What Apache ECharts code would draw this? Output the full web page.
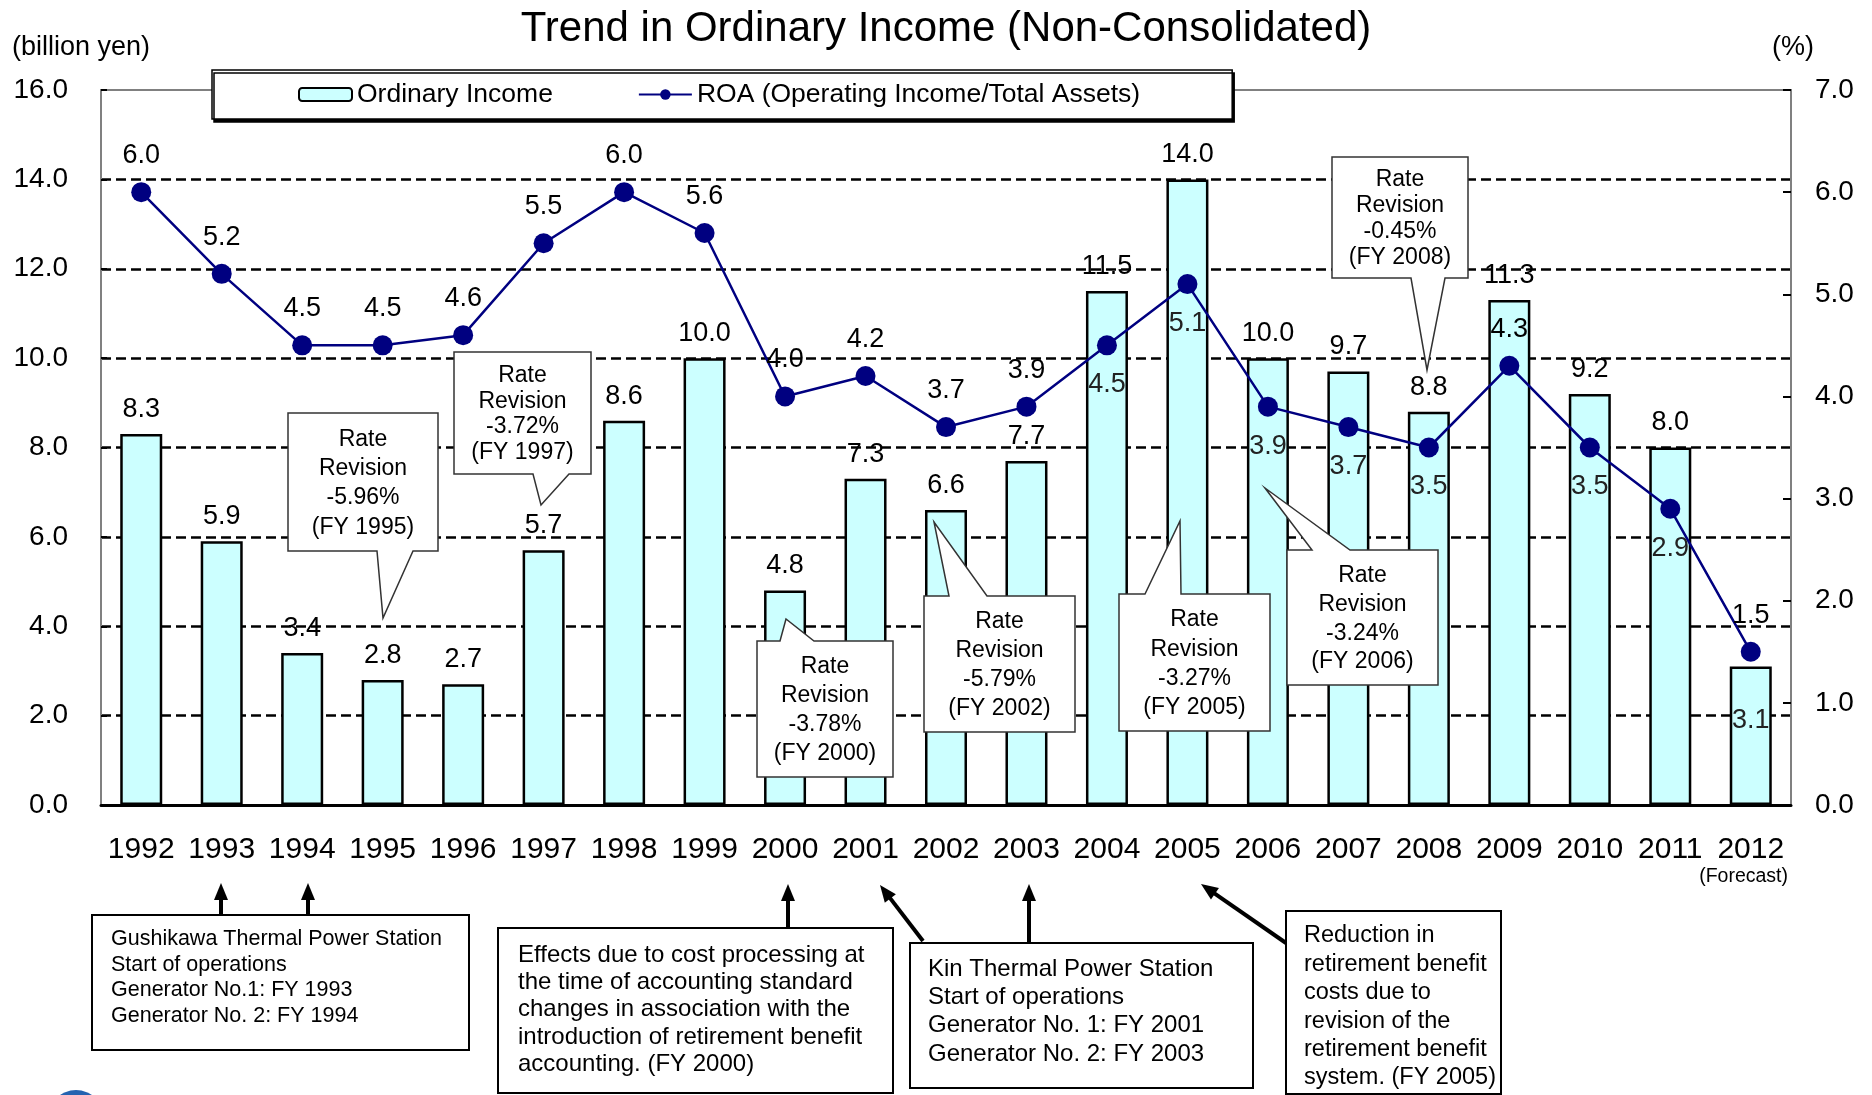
<!DOCTYPE html>
<html>
<head>
<meta charset="utf-8">
<title>Trend in Ordinary Income (Non-Consolidated)</title>
<script src="https://cdn.jsdelivr.net/npm/echarts@6/dist/echarts.min.js"></script>
<style>
  html, body { margin: 0; padding: 0; background: #fff; }
  #chart { width: 1872px; height: 1095px; }
</style>
</head>
<body>
<div id="chart"></div>
<script>
// data
var years = ['1992', '1993', '1994', '1995', '1996', '1997', '1998', '1999', '2000', '2001', '2002',
  '2003', '2004', '2005', '2006', '2007', '2008', '2009', '2010', '2011', '2012'];
var ordinaryIncome = [8.3, 5.9, 3.4, 2.8, 2.7, 5.7, 8.6, 10.0, 4.8, 7.3, 6.6, 7.7, 11.5, 14.0, 10.0, 9.7, 8.8, 11.3, 9.2, 8.0, 3.1];
var roa = [6.0, 5.2, 4.5, 4.5, 4.6, 5.5, 6.0, 5.6, 4.0, 4.2, 3.7, 3.9, 4.5, 5.1, 3.9, 3.7, 3.5, 4.3, 3.5, 2.9, 1.5];
var roaLabelBelow = ['2004', '2005', '2006', '2007', '2008', '2010', '2011'];
var incomeLabelInside = ['2012'];

var FONT = '"Liberation Sans", Arial, sans-serif';

// rate revision callouts: box [x1,y1,x2,y2], wedge base x's, tip, side of box
var callouts = [
  { box: [288, 413, 438, 551], base: [377, 413], tip: [383, 618], side: 'bottom', text: ['Rate', 'Revision', '-5.96%', '(FY 1995)'] },
  { box: [454, 352, 591, 474], base: [533, 569], tip: [541, 505], side: 'bottom', text: ['Rate', 'Revision', '-3.72%', '(FY 1997)'] },
  { box: [757, 641, 893, 777], base: [780, 814], tip: [786, 619], side: 'top', text: ['Rate', 'Revision', '-3.78%', '(FY 2000)'] },
  { box: [924, 596, 1075, 732], base: [949, 987], tip: [934, 522], side: 'top', text: ['Rate', 'Revision', '-5.79%', '(FY 2002)'] },
  { box: [1119, 594, 1270, 731], base: [1145, 1181], tip: [1180, 521], side: 'top', text: ['Rate', 'Revision', '-3.27%', '(FY 2005)'] },
  { box: [1287, 550, 1438, 685], base: [1312, 1350], tip: [1265, 488], side: 'top', text: ['Rate', 'Revision', '-3.24%', '(FY 2006)'] },
  { box: [1332, 157, 1468, 278], base: [1411, 1445], tip: [1427, 370], side: 'bottom', text: ['Rate', 'Revision', '-0.45%', '(FY 2008)'] }
];

// notes below the axis
var notes = [
  { box: [92, 915, 469, 1050], x: 111, y0: 939, dy: 25.7, size: 21.5,
    text: ['Gushikawa Thermal Power Station', 'Start of operations', 'Generator No.1: FY 1993', 'Generator No. 2: FY 1994'] },
  { box: [498, 928, 893, 1093], x: 518, y0: 955, dy: 27.3, size: 24,
    text: ['Effects due to cost processing at', 'the time of accounting standard', 'changes in association with the', 'introduction of retirement benefit', 'accounting. (FY 2000)'] },
  { box: [910, 943, 1253, 1088], x: 928, y0: 969, dy: 28.3, size: 24,
    text: ['Kin Thermal Power Station', 'Start of operations', 'Generator No. 1: FY 2001', 'Generator No. 2: FY 2003'] },
  { box: [1286, 911, 1501, 1094], x: 1304, y0: 936, dy: 28.4, size: 23.5,
    text: ['Reduction in', 'retirement benefit', 'costs due to', 'revision of the', 'retirement benefit', 'system. (FY 2005)'] }
];

var arrows = [
  [221, 914, 221, 883],
  [308, 914, 308, 883],
  [788, 928, 788, 884],
  [1029, 943, 1029, 884],
  [923, 941, 880, 885],
  [1286, 943, 1201, 884]
];

var graphics = [];

function addText(x, y, str, size, align) {
  graphics.push({
    type: 'text', x: x, y: y, z: 102,
    style: { text: str, fill: '#000', font: size + 'px ' + FONT, align: align, verticalAlign: 'middle' }
  });
}

callouts.forEach(function (c) {
  var b = c.box, pts;
  if (c.side === 'bottom') {
    pts = [[b[0], b[1]], [b[2], b[1]], [b[2], b[3]], [c.base[1], b[3]], c.tip, [c.base[0], b[3]], [b[0], b[3]]];
  } else {
    pts = [[b[0], b[1]], [c.base[0], b[1]], c.tip, [c.base[1], b[1]], [b[2], b[1]], [b[2], b[3]], [b[0], b[3]]];
  }
  graphics.push({
    type: 'polygon', z: 100, shape: { points: pts },
    style: { fill: '#fff', stroke: '#333', lineWidth: 1.5 }
  });
  var cx = (b[0] + b[2]) / 2;
  var h = b[3] - b[1];
  c.text.forEach(function (t, i) {
    addText(cx, b[1] + h * (0.19 + i * 0.213), t, 23, 'center');
  });
});

notes.forEach(function (n) {
  var b = n.box;
  graphics.push({
    type: 'rect', z: 100,
    shape: { x: b[0], y: b[1], width: b[2] - b[0], height: b[3] - b[1] },
    style: { fill: '#fff', stroke: '#000', lineWidth: 2 }
  });
  n.text.forEach(function (t, i) {
    addText(n.x, n.y0 + i * n.dy, t, n.size, 'left');
  });
});

arrows.forEach(function (a) {
  var dx = a[2] - a[0], dy = a[3] - a[1];
  var len = Math.sqrt(dx * dx + dy * dy);
  var ux = dx / len, uy = dy / len;
  var hl = 17, hw = 7;
  graphics.push({
    type: 'line', z: 100,
    shape: { x1: a[0], y1: a[1], x2: a[2] - ux * (hl - 2), y2: a[3] - uy * (hl - 2) },
    style: { stroke: '#000', lineWidth: 4 }
  });
  graphics.push({
    type: 'polygon', z: 100,
    shape: { points: [[a[2], a[3]], [a[2] - ux * hl - uy * hw, a[3] - uy * hl + ux * hw], [a[2] - ux * hl + uy * hw, a[3] - uy * hl - ux * hw]] },
    style: { fill: '#000' }
  });
});

// title and axis units
graphics.push({
  type: 'text', x: 946, y: 29, z: 102,
  style: { text: 'Trend in Ordinary Income (Non-Consolidated)', fill: '#000', font: '42px ' + FONT, align: 'center', verticalAlign: 'middle' }
});
addText(12, 48, '(billion yen)', 27, 'left');
addText(1814, 48, '(%)', 27, 'right');
addText(1788, 877, '(Forecast)', 19.5, 'right');

// bit of a logo cut off at the bottom left
graphics.push({ type: 'circle', z: 100, shape: { cx: 76, cy: 1118, r: 28 }, style: { fill: '#2563b0' } });

var incomeData = ordinaryIncome.map(function (v, i) {
  if (incomeLabelInside.indexOf(years[i]) >= 0) {
    return { value: v, label: { position: 'inside', offset: [0, -15], color: '#222' } };
  }
  return v;
});
var roaData = roa.map(function (v, i) {
  if (roaLabelBelow.indexOf(years[i]) >= 0) {
    return { value: v, label: { position: 'bottom', distance: 16, color: '#222' } };
  }
  return v;
});

var chart = echarts.init(document.getElementById('chart'));
chart.setOption({
  backgroundColor: '#fff',
  animation: false,
  textStyle: { fontFamily: FONT },
  grid: {
    left: 101, right: 81, top: 90, bottom: 290,
    show: true, borderColor: '#808080', borderWidth: 2, backgroundColor: 'transparent'
  },
  legend: {
    left: 212, top: 70,
    padding: [11, 92, 11, 86],
    itemGap: 85, itemWidth: 53, itemHeight: 13,
    backgroundColor: '#fff', borderColor: '#000', borderWidth: 1.5,
    shadowColor: '#000', shadowBlur: 0, shadowOffsetX: 2, shadowOffsetY: 3,
    textStyle: { fontSize: 26.5, color: '#000', fontFamily: FONT },
    data: ['Ordinary Income', 'ROA (Operating Income/Total Assets)']
  },
  xAxis: {
    type: 'category',
    data: years,
    boundaryGap: true,
    axisLine: { lineStyle: { color: '#000', width: 3 } },
    axisTick: { inside: true, length: 9, lineStyle: { color: '#000', width: 2 } },
    axisLabel: { interval: 0, fontSize: 30, color: '#000', margin: 30, fontFamily: FONT }
  },
  yAxis: [
    {
      type: 'value', min: 0, max: 16, interval: 2,
      axisLine: { show: true, lineStyle: { color: '#808080', width: 2 } },
      axisTick: { show: true, inside: true, length: 6, lineStyle: { color: '#000', width: 2 } },
      axisLabel: { fontSize: 28, color: '#000', margin: 33, formatter: function (v) { return v.toFixed(1); }, fontFamily: FONT },
      splitLine: { show: true, showMinLine: false, showMaxLine: false, lineStyle: { color: '#000', width: 2.5, type: [10, 5] } }
    },
    {
      type: 'value', min: 0, max: 7, interval: 1,
      axisLine: { show: true, lineStyle: { color: '#808080', width: 2 } },
      axisTick: { show: true, inside: true, length: 8, lineStyle: { color: '#000', width: 2 } },
      axisLabel: { fontSize: 28, color: '#000', margin: 24, formatter: function (v) { return v.toFixed(1); }, fontFamily: FONT },
      splitLine: { show: false }
    }
  ],
  series: [
    {
      name: 'Ordinary Income',
      type: 'bar',
      yAxisIndex: 0,
      barWidth: 42,
      data: incomeData,
      itemStyle: { color: '#CCFFFF', borderColor: '#000', borderWidth: 2.5 },
      label: {
        show: true, position: 'top', distance: 11,
        fontSize: 27, color: '#000', fontFamily: FONT,
        formatter: function (p) { return p.value.toFixed(1); }
      },
      z: 2
    },
    {
      name: 'ROA (Operating Income/Total Assets)',
      type: 'line',
      yAxisIndex: 1,
      data: roaData,
      symbol: 'circle',
      symbolSize: 20,
      itemStyle: { color: '#000080' },
      lineStyle: { color: '#000080', width: 2.5 },
      label: {
        show: true, position: 'top', distance: 13,
        fontSize: 27, color: '#000', fontFamily: FONT,
        formatter: function (p) { return p.value.toFixed(1); }
      },
      z: 3
    }
  ],
  graphic: graphics
});
</script>
</body>
</html>
